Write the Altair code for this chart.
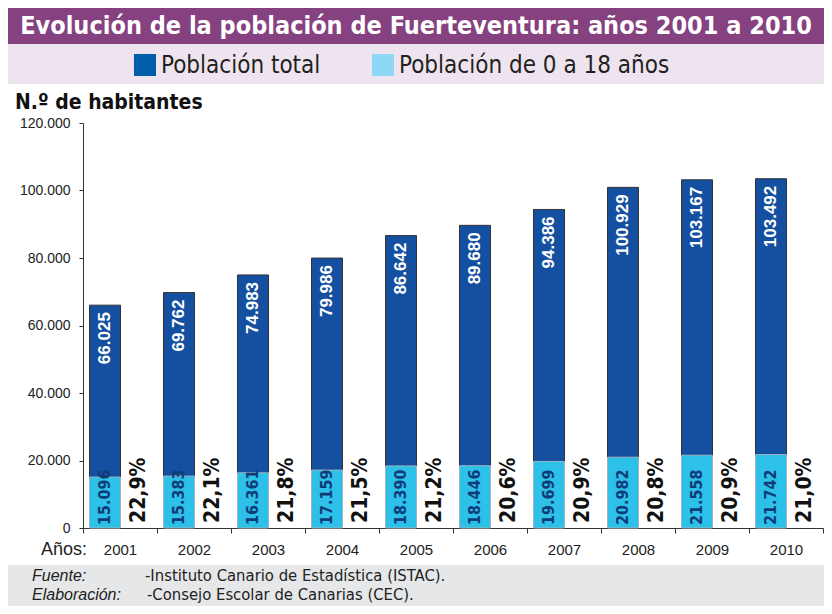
import altair as alt
import pandas as pd

years = ["2001", "2002", "2003", "2004", "2005", "2006", "2007", "2008", "2009", "2010"]
total = [66025, 69762, 74983, 79986, 86642, 89680, 94386, 100929, 103167, 103492]
youth = [15096, 15383, 16361, 17159, 18390, 18446, 19699, 20982, 21558, 21742]
pct = ["22,9%", "22,1%", "21,8%", "21,5%", "21,2%", "20,6%", "20,9%", "20,8%", "20,9%", "21,0%"]
series = ["Población total", "Población de 0 a 18 años"]
bar_colors = ["#1550A0", "#2DC0E8"]
legend_colors = ["#005DAA", "#8DD7F7"]
y_ticks = [0, 20000, 40000, 60000, 80000, 100000, 120000]

title_txt = "Evolución de la población de Fuerteventura: años 2001 a 2010"
ytitle_txt = "N.º de habitantes"
xtitle_txt = "Años:"
src = [("Fuente:", "-Instituto Canario de Estadística (ISTAC)."),
       ("Elaboración:", "-Consejo Escolar de Canarias (CEC).")]

NARROW = "Liberation Sans Narrow, Arial Narrow, DejaVu Sans Condensed, sans-serif"
ARIAL = "Liberation Sans, Arial, sans-serif"

def fmt(v):
    return f"{v:,}".replace(",", ".")

long_df = pd.DataFrame(
    [{"year": y, "serie": series[0], "value": t} for y, t in zip(years, total)]
    + [{"year": y, "serie": series[1], "value": j} for y, j in zip(years, youth)]
)
wide_df = pd.DataFrame({
    "year": years, "total": total, "youth": youth,
    "total_lbl": [fmt(v) for v in total],
    "youth_lbl": [fmt(v) for v in youth],
    "pct": pct,
})
one = pd.DataFrame({"a": [0]})

W, H = 740, 405

xenc = alt.X("year:N", sort=years, title=None,
             scale=alt.Scale(paddingInner=0, paddingOuter=0),
             axis=alt.Axis(labelAngle=0, labelFont=ARIAL, labelFontSize=15,
                           labelColor="#222", tickBand="extent", tickSize=5,
                           tickColor="#333", domainColor="#333",
                           labelPadding=9))
yscale = alt.Scale(domain=[0, 120000], nice=False)

bars = alt.Chart(long_df).mark_bar(size=31, xOffset=-15, strokeWidth=1).encode(
    x=xenc,
    y=alt.Y("value:Q", stack=None, scale=yscale, title=None,
            axis=alt.Axis(values=y_ticks, grid=False, labelFont=ARIAL,
                          labelFontSize=14, labelColor="#222", tickSize=4,
                          tickColor="#333", domainColor="#333", labelPadding=9,
                          labelExpr="replace(format(datum.value, ','), ',', '.')")),
    fill=alt.Fill("serie:N", scale=alt.Scale(domain=series, range=bar_colors), legend=None),
    stroke=alt.Stroke("serie:N", scale=alt.Scale(domain=series, range=["#333333", "#9fb4c0"]), legend=None),
    order=alt.Order("ord:Q"),
).transform_calculate(ord="datum.serie == 'Población total' ? 0 : 1")

total_lbl = alt.Chart(wide_df).mark_text(angle=270, align="right", baseline="middle",
                                          xOffset=-15, yOffset=7, font=ARIAL,
                                          fontSize=17, fontWeight="bold",
                                          color="white").encode(
    x=alt.X("year:N", sort=years), y=alt.Y("total:Q", scale=yscale), text="total_lbl:N")

youth_lbl = alt.Chart(wide_df).mark_text(angle=270, align="left", baseline="middle",
                                          xOffset=-15, yOffset=-3, font=NARROW,
                                          fontSize=16, fontWeight="bold",
                                          color="#0f3c78").encode(
    x=alt.X("year:N", sort=years), y=alt.datum(0), text="youth_lbl:N")

pct_lbl = alt.Chart(wide_df).mark_text(angle=270, align="left", baseline="middle",
                                        xOffset=19, yOffset=-5, font=NARROW,
                                        fontSize=21, fontWeight="bold",
                                        color="#111").encode(
    x=alt.X("year:N", sort=years), y=alt.datum(0), text="pct:N")

def band(y1, y2, color, x1=-75, x2=741):
    return alt.Chart(one).mark_rect(color=color).encode(
        x=alt.value(x1), x2=alt.value(x2), y=alt.value(y1), y2=alt.value(y2))

def txt(s, x, y, font, size, weight="normal", style="normal", color="#231f20", align="left"):
    return alt.Chart(pd.DataFrame({"t": [s]})).mark_text(
        align=align, baseline="middle", font=font, fontSize=size,
        fontWeight=weight, fontStyle=style, color=color).encode(
        x=alt.value(x), y=alt.value(y), text="t:N")

layers = [
    band(-115, -79, "#864180"),
    band(-79, -39, "#EEE4EF"),
    band(442, 483, "#E6E7E8"),
    txt(title_txt, 333, -97, NARROW, 25, weight="bold", color="white", align="center"),
    # legend
    band(-69, -47, legend_colors[0], 51, 73),
    txt(series[0], 78, -57, NARROW, 24, color="#231f20"),
    band(-69, -47, legend_colors[1], 289, 311),
    txt(series[1], 316, -57, NARROW, 24, color="#231f20"),
    txt(ytitle_txt, -68, -20, NARROW, 21, weight="bold", color="#111"),
    txt(xtitle_txt, -42, 427, ARIAL, 18, color="#222"),
    txt(src[0][0], -51, 453, ARIAL, 16, style="italic", color="#222"),
    txt(src[0][1], 62, 453, NARROW, 16.5, color="#222"),
    txt(src[1][0], -51, 472, ARIAL, 16, style="italic", color="#222"),
    txt(src[1][1], 64, 472, NARROW, 16.5, color="#222"),
    bars, total_lbl, youth_lbl, pct_lbl,
]

chart = alt.layer(*layers).properties(
    width=W, height=H,
    autosize=alt.AutoSizeParams(type="none"),
    padding={"left": 75, "top": 115, "right": 1, "bottom": 78},
    background="white",
).configure_view(stroke=None)

chart.save("out.html", embed_options={"renderer": "svg", "actions": False})
